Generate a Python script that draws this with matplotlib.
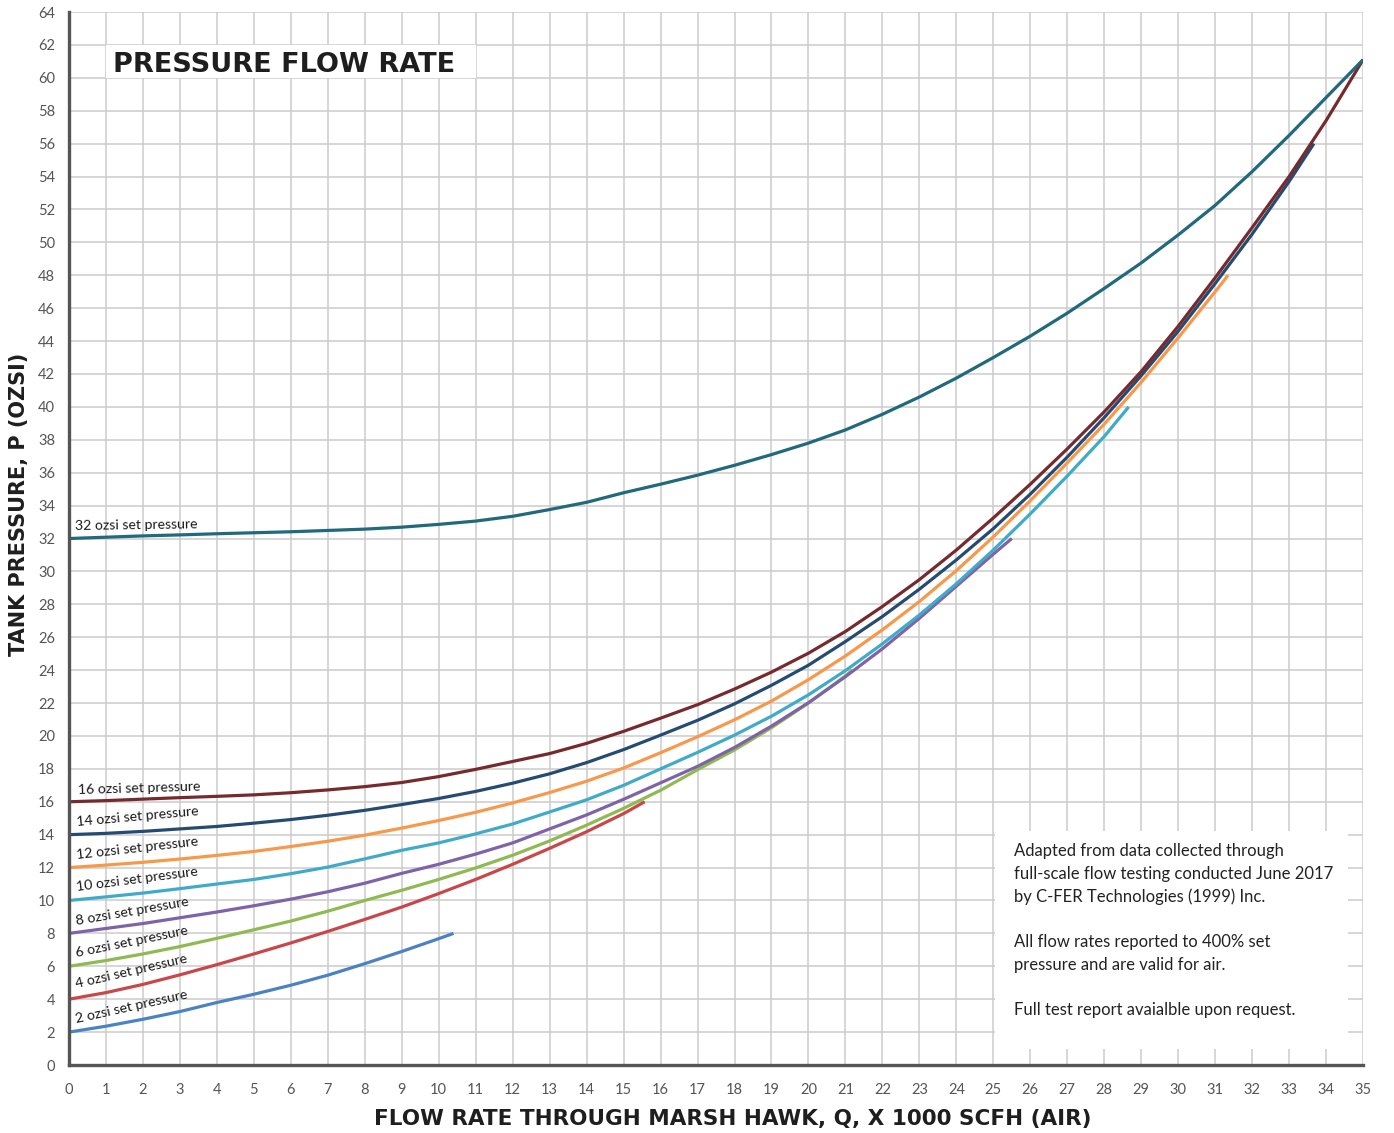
import matplotlib
matplotlib.use('Agg')
import matplotlib.pyplot as plt
from matplotlib.patches import Rectangle

plt.rcParams['font.family'] = ['Lato', 'DejaVu Sans']

# flow rate (x 1000 SCFH) and tank pressure (ozsi)
q_int = list(range(0, 36))

q_2 = q_int[:11] + [10.4]
p_2 = [2, 2.36, 2.78, 3.25, 3.8, 4.3, 4.85, 5.46, 6.16, 6.9, 7.68, 8.0]

q_4 = q_int[:16] + [15.57]
p_4 = [4, 4.4, 4.9, 5.48, 6.1, 6.75, 7.42, 8.12, 8.85, 9.6, 10.42, 11.28,
       12.2, 13.17, 14.18, 15.28, 16.0]

q_6 = q_int[:22] + [21.18]
p_6 = [6, 6.35, 6.75, 7.2, 7.7, 8.22, 8.75, 9.35, 10.0, 10.62, 11.28, 11.98,
       12.75, 13.62, 14.58, 15.6, 16.7, 17.95, 19.15, 20.5, 22.0, 23.65, 24.0]

q_8 = q_int[:26] + [25.5]
p_8 = [8, 8.3, 8.6, 8.95, 9.3, 9.68, 10.08, 10.53, 11.05, 11.65, 12.2, 12.82,
       13.5, 14.35, 15.2, 16.15, 17.15, 18.15, 19.3, 20.6, 22.02, 23.6, 25.3,
       27.15, 29.1, 31.05, 32.0]

q_10 = q_int[:29] + [28.66]
p_10 = [10, 10.22, 10.45, 10.72, 11.0, 11.28, 11.63, 12.03, 12.53, 13.05,
        13.5, 14.05, 14.65, 15.38, 16.12, 17.0, 18.0, 19.0, 20.05, 21.2, 22.5,
        23.97, 25.6, 27.35, 29.25, 31.3, 33.5, 35.8, 38.2, 40.0]

q_12 = q_int[:32] + [31.35]
p_12 = [12, 12.15, 12.32, 12.52, 12.74, 12.98, 13.28, 13.6, 13.97, 14.4,
        14.86, 15.36, 15.93, 16.56, 17.25, 18.05, 18.98, 19.95, 20.98, 22.12,
        23.42, 24.86, 26.45, 28.17, 30.05, 32.1, 34.3, 36.6, 38.95, 41.5,
        44.2, 47.0, 48.0]

q_14 = q_int[:34] + [33.67]
p_14 = [14, 14.08, 14.2, 14.35, 14.5, 14.7, 14.92, 15.18, 15.48, 15.83, 16.2,
        16.63, 17.13, 17.7, 18.38, 19.17, 20.05, 20.95, 21.95, 23.08, 24.3,
        25.74, 27.26, 28.92, 30.7, 32.6, 34.7, 36.95, 39.35, 41.9, 44.6, 47.5,
        50.5, 53.7, 56.0]

q_16 = q_int
p_16 = [16, 16.07, 16.16, 16.25, 16.33, 16.42, 16.55, 16.72, 16.92, 17.17,
        17.53, 17.97, 18.45, 18.93, 19.55, 20.28, 21.08, 21.9, 22.85, 23.88,
        25.03, 26.35, 27.87, 29.5, 31.3, 33.25, 35.3, 37.45, 39.7, 42.15, 44.9,
        47.85, 50.9, 54.0, 57.4, 61.1]

q_32 = q_int
p_32 = [32, 32.08, 32.16, 32.22, 32.29, 32.35, 32.41, 32.49, 32.57, 32.69,
        32.86, 33.06, 33.35, 33.76, 34.2, 34.78, 35.3, 35.85, 36.45, 37.1,
        37.8, 38.6, 39.55, 40.6, 41.75, 43.0, 44.3, 45.7, 47.2, 48.75, 50.45,
        52.25, 54.3, 56.5, 58.8, 61.1]

set_pressures = [2, 4, 6, 8, 10, 12, 14, 16, 32]
series = [(q_2, p_2), (q_4, p_4), (q_6, p_6), (q_8, p_8), (q_10, p_10),
          (q_12, p_12), (q_14, p_14), (q_16, p_16), (q_32, p_32)]
colors = ['#4a82c4', '#c9474a', '#8fba52', '#7f63a8', '#3fabc9',
          '#f7984a', '#254b73', '#772a2e', '#21697c']

# label anchor (x, y) and angle in degrees
label_pos = [(0.2, 2.55), (0.2, 4.66), (0.2, 6.58), (0.2, 8.51), (0.2, 10.58),
             (0.2, 12.52), (0.22, 14.55), (0.25, 16.45), (0.16, 32.5)]
label_rot = [12.5, 13, 11.5, 9.8, 7.3, 6.4, 5.1, 1.6, 0.8]

note_lines = [
    "Adapted from data collected through",
    "full-scale flow testing conducted June 2017",
    "by C-FER Technologies (1999) Inc.",
    "",
    "All flow rates reported to 400% set",
    "pressure and are valid for air.",
    "",
    "Full test report avaialble upon request.",
]

heading = ['DejaVu Sans']

fig = plt.figure(figsize=(13.94, 11.33), dpi=100)
ax = fig.add_axes([0.0495, 0.06, 0.9283, 0.9294])

ax.set_xlim(0, 35)
ax.set_ylim(0, 64)
ax.set_xticks(range(0, 36))
ax.set_yticks(range(0, 65, 2))
ax.set_axisbelow(True)
ax.grid(True, color='#cccccc', lw=1.1)
ax.tick_params(length=0, labelsize=10.5, colors='#555555')
ax.tick_params(axis='x', pad=13)
ax.tick_params(axis='y', pad=10)
for side in ['top', 'right']:
    ax.spines[side].set_visible(False)
for side in ['left', 'bottom']:
    ax.spines[side].set_color('#555555')
    ax.spines[side].set_linewidth(2.4)
    ax.spines[side].set_zorder(5)

for (q, p), c in zip(series, colors):
    ax.plot(q, p, color=c, lw=2.3, solid_capstyle='butt', zorder=3)

for sp, (lx, ly), rot in zip(set_pressures, label_pos, label_rot):
    ax.text(lx, ly, f"{sp} ozsi set pressure", fontsize=10.2, color='#1a1a1a',
            rotation=rot, rotation_mode='anchor', ha='left', va='baseline',
            zorder=4)

# title box
ax.add_patch(Rectangle((1, 60), 10, 2, facecolor='white', edgecolor='none',
                       zorder=1))
ax.text(1.2, 60.78, "PRESSURE FLOW RATE", fontsize=19.5, fontweight='bold',
        family=heading, color='#1e1e1e', ha='left', va='center', zorder=4)

# note box
ax.add_patch(Rectangle((25.04, 1.0), 9.56, 13.2, facecolor='white',
                       edgecolor='none', zorder=1))
ax.text(25.55, 13.48, "\n".join(note_lines), fontsize=12, color='#222222',
        ha='left', va='top', linespacing=1.5, zorder=4)

ax.set_xlabel("FLOW RATE THROUGH MARSH HAWK, Q, X 1000 SCFH (AIR)",
              fontsize=15.5, fontweight='bold', family=heading,
              color='#1e1e1e')
ax.xaxis.set_label_coords(0.513, -0.0415)
ax.set_ylabel("TANK PRESSURE, P (OZSI)", fontsize=15, fontweight='bold',
              family=heading, color='#1e1e1e')
ax.yaxis.set_label_coords(-0.031, 0.532)

fig.savefig('out.png', dpi=100)
